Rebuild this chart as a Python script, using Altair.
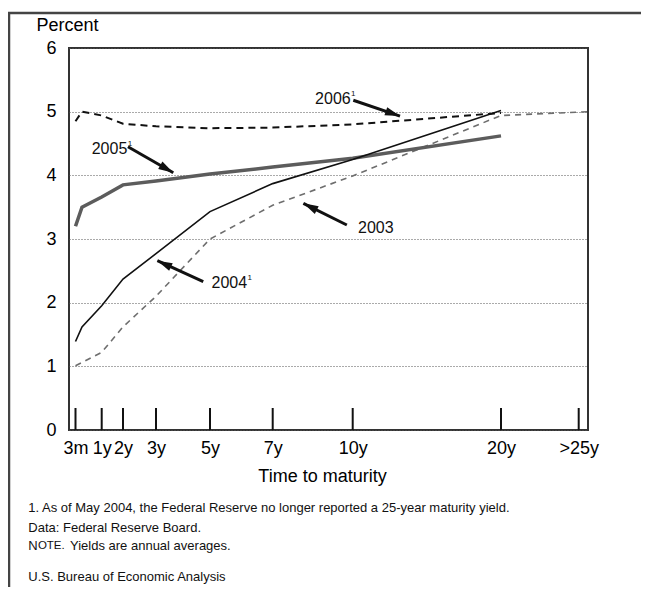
import altair as alt
import pandas as pd

# ---------------- data ----------------
maturities = [0.25, 0.5, 1, 2, 3, 5, 7, 10, 20]
yield_2003 = [1.01, 1.06, 1.22, 1.62, 2.10, 3.00, 3.53, 3.99, 4.94]
yield_2004 = [1.39, 1.62, 1.95, 2.37, 2.77, 3.43, 3.87, 4.25, 5.02]
yield_2005 = [3.20, 3.50, 3.66, 3.85, 3.91, 4.02, 4.13, 4.27, 4.62]
yield_2006 = [4.85, 5.00, 4.94, 4.81, 4.77, 4.74, 4.75, 4.80, 4.98]
long_maturity = 30          # "over 25 years" (reported only through 2003)
yield_2003_long = 5.00

tick_values = [0.25, 1, 2, 3, 5, 7, 10, 20, 25]
tick_labels = ["3m", "1y", "2y", "3y", "5y", "7y", "10y", "20y", ">25y"]
y_ticks = [0, 1, 2, 3, 4, 5, 6]

# annotations (data units)
ann_text = ["2006", "2005", "2003", "2004"]
ann_note = ["1", "1", "", "1"]
ann_x = [8.59, 0.746, 10.36, 5.05]
ann_y = [5.20, 4.42, 3.17, 2.31]
arr_x1 = [10.04, 2.15, 9.78, 4.75]
arr_y1 = [5.18, 4.45, 3.22, 2.33]
arr_x2 = [13.19, 3.64, 8.15, 3.05]
arr_y2 = [4.93, 4.04, 3.56, 2.66]
arr_angle = [109, 120, 297, 295]

footnote_1 = "1. As of May 2004, the Federal Reserve no longer reported a 25-year maturity yield."
footnote_data = "Data: Federal Reserve Board."
note_head_big = "N"
note_head_small = "OTE."
note_body = "Yields are annual averages."
source = "U.S. Bureau of Economic Analysis"

# ---------------- layout ----------------
W, H = 519, 382
FONT = "Liberation Sans"

x_scale = alt.Scale(
    domain=[0, 0.25, 0.5, 1, 2, 3, 5, 7, 10, 20, 25, 30],
    range=[0, 6.5, 13, 32.7, 54, 87, 141, 203.7, 283.7, 432, 509.7, 519],
    nice=False, zero=False,
)
y_scale = alt.Scale(domain=[0, 6], nice=False)

label_expr = " : ".join(
    f"datum.value == {v} ? '{l}'" for v, l in zip(tick_values, tick_labels)
) + " : ''"

x_axis = alt.Axis(
    values=tick_values, labelExpr=label_expr, title="Time to maturity",
    domain=False, ticks=False, grid=False, labelFontSize=18, labelFont=FONT,
    labelColor="black", labelPadding=9, labelOverlap=False, labelFlush=False,
    labelBound=False, titleFont=FONT, titleFontSize=18, titleFontWeight="normal",
    titleColor="black", titleX=253, titleY=46, titleBaseline="middle",
    titleAlign="center",
)
y_axis = alt.Axis(
    values=y_ticks, title="Percent", titleAngle=0, titleAlign="left",
    titleX=-33, titleY=-23, titleBaseline="middle", titleFont=FONT,
    titleFontSize=18, titleFontWeight="normal", titleColor="black",
    labelFontSize=18, labelFont=FONT, labelColor="black", labelPadding=13,
    domain=False, ticks=False, grid=True, gridDash=[1, 2], gridColor="#555",
    gridWidth=1,
)


def X(field):
    return alt.X(field, type="quantitative", scale=x_scale, axis=x_axis)


def Y(field):
    return alt.Y(field, type="quantitative", scale=y_scale, axis=y_axis)


def series(mats, vals):
    return pd.DataFrame({"m": mats, "v": vals})


d2003 = series(maturities + [long_maturity], yield_2003 + [yield_2003_long])
d2004 = series(maturities, yield_2004)
d2005 = series(maturities, yield_2005)
d2006 = series(maturities, yield_2006)

l2003 = alt.Chart(d2003).mark_line(color="#6e6e6e", strokeWidth=1.6,
                                   strokeDash=[6, 5]).encode(x=X("m"), y=Y("v"))
l2004 = alt.Chart(d2004).mark_line(color="#111", strokeWidth=1.6).encode(x=X("m"), y=Y("v"))
l2005 = alt.Chart(d2005).mark_line(color="#5c5c5c", strokeWidth=3.5).encode(x=X("m"), y=Y("v"))
l2006 = alt.Chart(d2006).mark_line(color="#111", strokeWidth=2,
                                   strokeDash=[7, 5]).encode(x=X("m"), y=Y("v"))

ticks = alt.Chart(pd.DataFrame({"m": tick_values})).mark_rule(
    color="#111", strokeWidth=2
).encode(x=X("m"), y=alt.value(H - 22), y2=alt.value(H))

ann = pd.DataFrame({"t": ann_text, "n": ann_note, "x": ann_x, "y": ann_y})
labels = alt.Chart(ann).mark_text(
    align="left", baseline="middle", fontSize=16, font=FONT, color="#111"
).encode(x=X("x"), y=Y("y"), text="t:N")
notes = alt.Chart(ann).mark_text(
    align="left", baseline="middle", fontSize=8, font=FONT, color="#111",
    dx=36, dy=-5,
).encode(x=X("x"), y=Y("y"), text="n:N")

arr = pd.DataFrame({"x1": arr_x1, "y1": arr_y1, "x2": arr_x2, "y2": arr_y2,
                    "a": arr_angle})
shafts = alt.Chart(arr).mark_rule(color="#111", strokeWidth=3).encode(
    x=X("x1"), y=Y("y1"), x2="x2", y2="y2")
heads = alt.Chart(arr).mark_point(
    shape="M0,0L-0.85,3L0.85,3Z", filled=True, color="#111", opacity=1,
    size=100, strokeWidth=0,
).encode(x=X("x2"), y=Y("y2"), angle=alt.Angle("a:Q", scale=None))

# outer frame
one = pd.DataFrame({"k": [0]})
frame_left = alt.Chart(one).mark_rule(color="#444", strokeWidth=2.5).encode(
    x=alt.value(-60), y=alt.value(-35), y2=alt.value(560))
frame_top = alt.Chart(one).mark_rule(color="#444", strokeWidth=2.5).encode(
    x=alt.value(-61), x2=alt.value(600), y=alt.value(-35))


def note_text(text, x, y, size=13):
    return alt.Chart(pd.DataFrame({"t": [text]})).mark_text(
        align="left", baseline="middle", fontSize=size, font=FONT, color="#111"
    ).encode(x=alt.value(x), y=alt.value(y), text="t:N")


FX = -40.7
foot_layers = [
    note_text(footnote_1, FX, 460.3),
    note_text(footnote_data, FX, 479.7),
    note_text(note_head_big, FX, 497.7),
    note_text(note_head_small, FX + 9.6, 498.3, size=11.5),
    note_text(note_body, 1, 497.7),
    note_text(source, FX, 528.5),
]

chart = alt.layer(
    ticks, l2003, l2005, l2004, l2006, shafts, heads, labels, notes,
    frame_left, frame_top, *foot_layers
).properties(
    width=W, height=H, autosize="none",
    padding={"left": 61, "top": 40, "right": 53, "bottom": 157},
    background="white",
).configure_view(stroke="#333", strokeWidth=2)

chart.save("out.html", embed_options={"renderer": "svg", "actions": False})
